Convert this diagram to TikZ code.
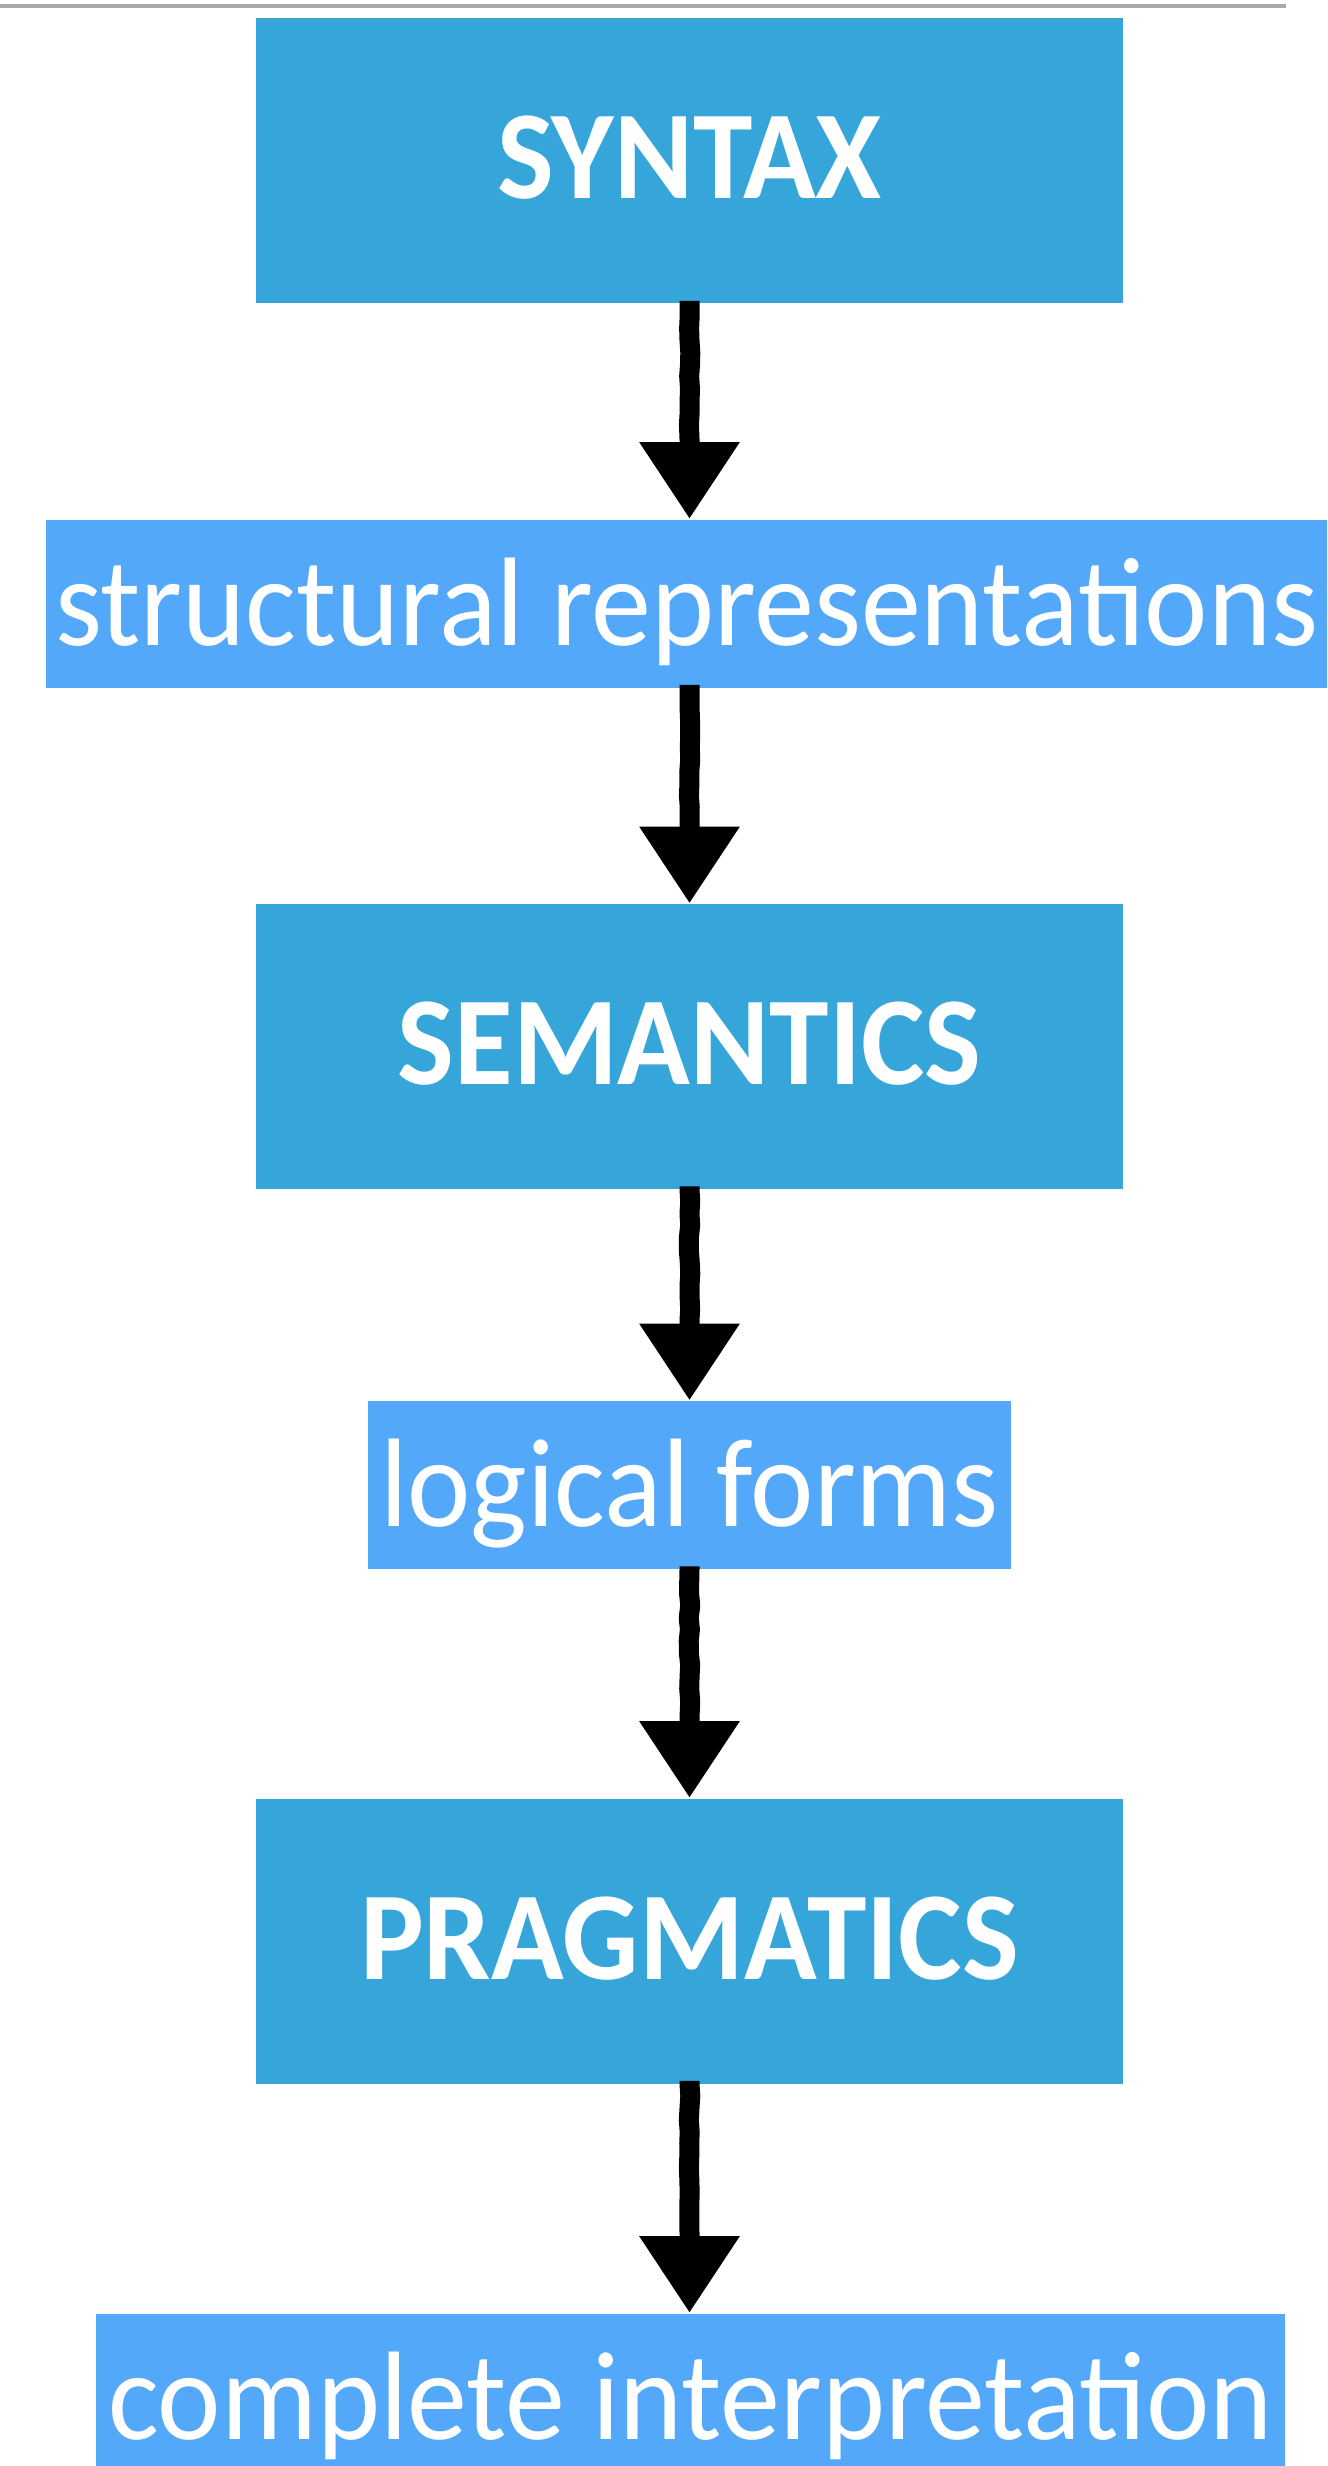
\documentclass[tikz,border=0pt]{standalone}
\usepackage{fontspec}
\usepackage{graphicx}
\setmainfont{Carlito}
\usetikzlibrary{arrows.meta,decorations.pathmorphing}
\definecolor{stageblue}{HTML}{35A5DA}
\definecolor{resultblue}{HTML}{53A8F9}
\definecolor{rulegray}{HTML}{A8A8A8}
% slightly tall lettering
\newcommand{\tallword}[1]{\scalebox{1}[1.05]{#1}}
\begin{document}
\pgfmathsetseed{7}
\begin{tikzpicture}[x=0.5pt,y=-0.5pt,
  stage/.style={fill=stageblue, text=white, inner sep=0pt,
    font=\bfseries\fontsize{60}{62}\selectfont,
    minimum width=433.5pt, minimum height=142.5pt,
    text height=38pt, text depth=0pt},
  result/.style={fill=resultblue, text=white, inner sep=0pt,
    font=\fontsize{60}{62}\selectfont,
    minimum height=84pt, text height=41.5pt, text depth=0pt},
  flow/.style={draw=black, line width=10pt, line join=round,
    shorten <=1.5pt,
    -{Triangle[length=38.5pt,width=47.5pt]},
    decorate, decoration={random steps, segment length=6pt,
      amplitude=0.4pt, post length=40pt}}]
\useasboundingbox (0,0) rectangle (1327,2466);

% rule along the top edge
\draw[rulegray, line width=2pt] (0,6) -- (1286,6);

% processing stages and their outputs
\node[stage] (syntax) at (689.5,161) {\tallword{SYNTAX}};
\node[result, minimum width=640.5pt] (struct) at (686.5,603.5) {\tallword{structural representations}};
\node[stage] (semantics) at (689.5,1046.5) {\tallword{SEMANTICS}};
\node[result, minimum width=321.5pt] (logic) at (689.5,1485) {\tallword{logical forms}};
\node[stage] (pragmatics) at (689.5,1941) {\tallword{PRAGMATICS}};
\node[result, minimum width=594.5pt] (complete) at (690.5,2397.5) {\tallword{complete interpretation}};

% arrows between the stages
\draw[flow] (syntax.south) -- (syntax.south |- struct.north);
\draw[flow] (syntax.south |- struct.south) -- (semantics.north);
\draw[flow] (semantics.south) -- (semantics.south |- logic.north);
\draw[flow] (semantics.south |- logic.south) -- (pragmatics.north);
\draw[flow] (pragmatics.south) -- (pragmatics.south |- complete.north);
\end{tikzpicture}
\end{document}
